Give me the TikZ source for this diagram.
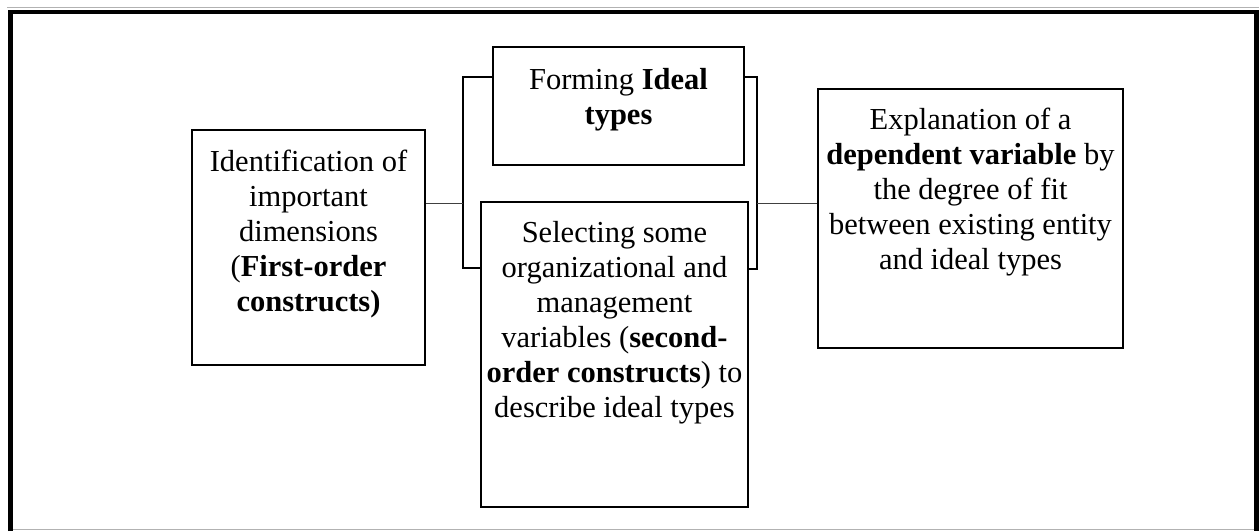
\documentclass[tikz,border=0pt]{standalone}
\usepackage{fontspec}
\setmainfont{Liberation Serif}
\begin{document}
\begin{tikzpicture}[x=1pt,y=-1pt,
  box/.style={draw=black, line width=2pt, rectangle, inner sep=0pt},
  boxtext/.style={anchor=base, inner sep=0pt, font=\fontsize{30.5}{35}\selectfont},
  bracket/.style={draw=black, line width=2pt, line join=miter},
  link/.style={draw=black!75, line width=1pt}]
\useasboundingbox (0,0) rectangle (1259,531);
% outer frame
\draw[black!30, line width=0.8pt] (7,7) -- (1259,7);
\draw[black!30, line width=1pt] (8,529.5) -- (1259,529.5);
\draw[black, line width=4.5pt, line join=miter] (10.5,531) -- (10.5,12) -- (1256.5,12) -- (1256.5,531);

% boxes
\node[box, minimum width=233pt, minimum height=235pt] (ident) at (308.5,247.5) {};
\node[box, minimum width=251pt, minimum height=118pt] (form) at (618.5,106) {};
\node[box, minimum width=267pt, minimum height=305pt] (select) at (614.5,354.5) {};
\node[box, minimum width=305pt, minimum height=259pt] (explain) at (970.5,218.5) {};

% texts, first baseline about 42pt below each box top
\node[boxtext] (identtxt) at ([yshift=-42pt]ident.north) {\parbox[t]{230pt}{\centering
  Identification of\\ important\\ dimensions\\ (\textbf{First-order}\\ \textbf{constructs)}}};
\node[boxtext] (formtxt) at ([yshift=-43pt]form.north) {\parbox[t]{250pt}{\centering
  Forming \textbf{Ideal}\\ \textbf{types}}};
\node[boxtext] (selecttxt) at ([yshift=-41pt]select.north) {\parbox[t]{265pt}{\centering
  Selecting some\\ organizational and\\ management\\ variables (\textbf{second-}\\
  \textbf{order constructs}) to\\ describe ideal types}};
\node[boxtext] (explaintxt) at ([yshift=-41pt]explain.north) {\parbox[t]{303pt}{\centering
  Explanation of a\\ \textbf{dependent variable} by\\ the degree of fit\\
  between existing entity\\ and ideal types}};

% bracket joints
\coordinate (lt) at (463,77);
\coordinate (lb) at (463,268);
\coordinate (rt) at (757,77);
\coordinate (rb) at (757,268.5);
\coordinate (lj) at (463,203);
\coordinate (rj) at (757,203);

% brackets grouping the two middle boxes
\draw[bracket] (form.west |- lt) -- (lt) -- (lb) -- (select.west |- lb);
\draw[bracket] (form.east |- rt) -- (rt) -- (rb) -- (select.east |- rb);

% connectors
\draw[link] (ident.east |- lj) -- (lj);
\draw[link] (rj) -- (explain.west |- rj);
\end{tikzpicture}
\end{document}
